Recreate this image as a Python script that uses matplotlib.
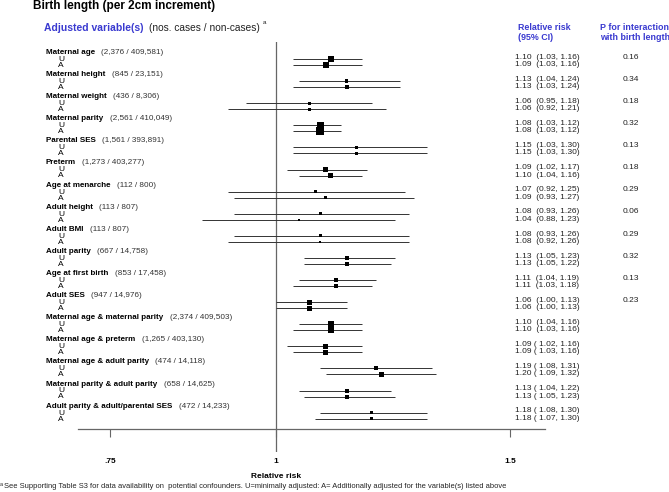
import numpy as np
import matplotlib
matplotlib.use("Agg")
import matplotlib.pyplot as plt
import matplotlib.transforms as mtransforms
from matplotlib.ticker import NullLocator

plt.rcParams['font.family'] = ['Liberation Sans', 'DejaVu Sans']

# data
variables = ["Maternal age", "Maternal height", "Maternal weight", "Maternal parity",
             "Parental SES", "Preterm", "Age at menarche", "Adult height", "Adult BMI",
             "Adult parity", "Age at first birth", "Adult SES",
             "Maternal age & maternal parity", "Maternal age & preterm",
             "Maternal age & adult parity", "Maternal parity & adult parity",
             "Adult parity & adult/parental SES"]
counts = ["(2,376 / 409,581)", "(845 / 23,151)", "(436 / 8,306)", "(2,561 / 410,049)",
          "(1,561 / 393,891)", "(1,273 / 403,277)", "(112 / 800)", "(113 / 807)",
          "(113 / 807)", "(667 / 14,758)", "(853 / 17,458)", "(947 / 14,976)",
          "(2,374 / 409,503)", "(1,265 / 403,130)", "(474 / 14,118)",
          "(658 / 14,625)", "(472 / 14,233)"]
rr_u = [1.10, 1.13, 1.06, 1.08, 1.15, 1.09, 1.07, 1.08, 1.08, 1.13, 1.11, 1.06,
        1.10, 1.09, 1.19, 1.13, 1.18]
lo_u = [1.03, 1.04, 0.95, 1.03, 1.03, 1.02, 0.92, 0.93, 0.93, 1.05, 1.04, 1.00,
        1.04, 1.02, 1.08, 1.04, 1.08]
hi_u = [1.16, 1.24, 1.18, 1.12, 1.30, 1.17, 1.25, 1.26, 1.26, 1.23, 1.19, 1.13,
        1.16, 1.16, 1.31, 1.22, 1.30]
rr_a = [1.09, 1.13, 1.06, 1.08, 1.15, 1.10, 1.09, 1.04, 1.08, 1.13, 1.11, 1.06,
        1.10, 1.09, 1.20, 1.13, 1.18]
lo_a = [1.03, 1.03, 0.92, 1.03, 1.03, 1.04, 0.93, 0.88, 0.92, 1.05, 1.03, 1.00,
        1.03, 1.03, 1.09, 1.05, 1.07]
hi_a = [1.16, 1.24, 1.21, 1.12, 1.30, 1.16, 1.27, 1.23, 1.26, 1.22, 1.18, 1.13,
        1.16, 1.16, 1.32, 1.23, 1.30]
p_interaction = ["0.16", "0.34", "0.18", "0.32", "0.13", "0.18", "0.29", "0.06", "0.29",
                 "0.32", "0.13", "0.23", "", "", "", "", ""]

# box sizes (pixels) as drawn in the original
box_u = [6, 3.5, 3, 7.5, 3, 5, 3, 3, 3, 4, 4, 5, 6, 5, 4, 4, 3]
box_a = [6, 4, 3, 8, 3, 5, 3, 2, 2, 4, 4, 5, 6, 5, 5, 4, 3.5]

W, H = 669, 492
BLUE = "#3a3ad0"
GAP = 22.1          # pixels between groups
UA = 6 / GAP        # U -> A offset in group units


def fx(px):
    return px / W


def fy(py):
    return 1 - py / H


fig = plt.figure(figsize=(W / 100, H / 100), dpi=100)
ax_top, ax_bot = 42, 452
ax = fig.add_axes([fx(78), fy(ax_bot), fx(545) - fx(78), (ax_bot - ax_top) / H])
ax.set_xscale('log')
ax.set_xlim(np.exp((78 - 276) / 577), np.exp((545 - 276) / 577))
ax.set_ylim((ax_bot - 59) / GAP, (ax_top - 59) / GAP)

n = len(variables)
y_u = np.arange(n, dtype=float)
y_a = y_u + UA

ax.axvline(1, color="#666666", lw=0.9, zorder=1)
ax.hlines(y_u, lo_u, hi_u, color="#333333", lw=0.7, zorder=2)
ax.hlines(y_a, lo_a, hi_a, color="#333333", lw=0.7, zorder=2)
ax.scatter(rr_u, y_u, marker='s', s=(np.array(box_u) * 0.72) ** 2, color='black',
           linewidths=0, zorder=3)
ax.scatter(rr_a, y_a, marker='s', s=(np.array(box_a) * 0.72) ** 2, color='black',
           linewidths=0, zorder=3)

for s in ['left', 'top', 'right']:
    ax.spines[s].set_visible(False)
ax.spines['bottom'].set_position(('data', (429 - 59) / GAP))
ax.spines['bottom'].set_color("#666666")
ax.spines['bottom'].set_linewidth(0.9)
ax.set_yticks([])
ax.set_xticks([0.75, 1, 1.5])
ax.set_xticklabels(['.75', '1', '1.5'], fontweight='bold')
ax.xaxis.set_minor_locator(NullLocator())
ax.tick_params(axis='x', direction='out', length=6, width=0.8, color="#666666",
               pad=15, labelsize=6)

tr = mtransforms.blended_transform_factory(fig.transFigure, ax.transData)

for i in range(n):
    t = ax.text(fx(46), y_u[i] - 6.5 / GAP, variables[i], transform=tr, fontsize=5.8,
                fontweight='bold', va='center', ha='left')
    ax.annotate(counts[i], xy=(1, 0.5), xycoords=t, xytext=(4.5, 0),
                textcoords='offset points', fontsize=5.9, color="#333333",
                va='center', ha='left')
    ax.text(fx(58), y_u[i] + 0.02, "U", transform=tr, fontsize=6, va='center', ha='left')
    ax.text(fx(58), y_a[i] + 0.02, "A", transform=tr, fontsize=6, va='center', ha='left')
    if i < 13:
        fmt = "{:.2f}  ({:.2f}, {:.2f})"
    else:
        fmt = "{:.2f} ( {:.2f}, {:.2f})"
    ax.text(fx(515), y_u[i] - 0.08, fmt.format(rr_u[i], lo_u[i], hi_u[i]),
            transform=tr, fontsize=6, color="#222222", va='center', ha='left')
    ax.text(fx(515), y_a[i] - 0.02, fmt.format(rr_a[i], lo_a[i], hi_a[i]),
            transform=tr, fontsize=6, color="#222222", va='center', ha='left')
    if p_interaction[i]:
        ax.text(fx(631), y_u[i] - 0.08, p_interaction[i], transform=tr, fontsize=6,
                color="#222222", va='center', ha='center')

# headers
fig.text(fx(33), fy(6), "Birth length (per 2cm increment)", fontsize=8.5,
         fontweight='bold', va='center', ha='left')
h1 = fig.text(fx(44), fy(28), "Adjusted variable(s)", fontsize=7.5, fontweight='bold',
              color=BLUE, va='center', ha='left')
h2 = ax.annotate("(nos. cases / non-cases)", xy=(1, 0.5), xycoords=h1, xytext=(4.3, 0),
                 textcoords='offset points', fontsize=7.3, color="#222222",
                 va='center', ha='left', annotation_clip=False)
ax.annotate("a", xy=(1, 0.75), xycoords=h2, xytext=(2, 0), textcoords='offset points',
            fontsize=4.5, color="#222222", va='bottom', ha='left', annotation_clip=False)

fig.text(fx(518), fy(27), "Relative risk", fontsize=6.4, fontweight='bold', color=BLUE,
         va='center', ha='left')
fig.text(fx(518), fy(38), "(95% CI)", fontsize=6.4, fontweight='bold', color=BLUE,
         va='center', ha='left')
fig.text(fx(600), fy(27), "P for interaction", fontsize=6.4, fontweight='bold',
         color=BLUE, va='center', ha='left')
fig.text(fx(600), fy(38), "with birth length", fontsize=6.4, fontweight='bold',
         color=BLUE, va='center', ha='left')

fig.text(fx(276), fy(476), "Relative risk", fontsize=6, fontweight='bold',
         va='center', ha='center')

fig.text(fx(0), fy(485), "a", fontsize=4, va='center', ha='left', color="#222222")
fig.text(fx(4), fy(487),
         "See Supporting Table S3 for data availability on  potential confounders. "
         "U=minimally adjusted: A= Additionally adjusted for the variable(s) listed above",
         fontsize=5.4, va='center', ha='left', color="#222222")

fig.savefig("out.png", dpi=100)
